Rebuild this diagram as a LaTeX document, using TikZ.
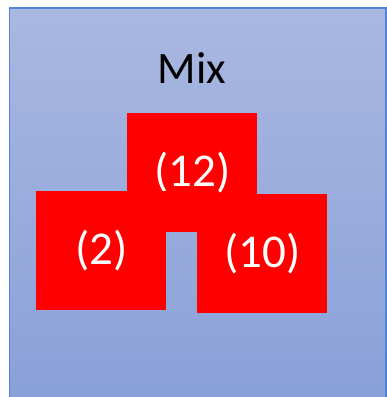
\documentclass[tikz,border=0pt]{standalone}
\usepackage{fontspec}
\setmainfont{Carlito}
\usepackage{xcolor}
\usetikzlibrary{positioning}
\definecolor{mixtop}{RGB}{169,184,225}
\definecolor{mixbot}{RGB}{137,160,216}
\definecolor{mixedge}{RGB}{84,130,212}
\tikzset{
  part/.style={fill=red,text=white,minimum width=130pt,minimum height=119pt,inner sep=0pt,anchor=north west,font=\fontsize{47}{56}\selectfont},
}

\begin{document}
\begin{tikzpicture}[x=1pt,y=-1pt]
\useasboundingbox (0,0) rectangle (387,397);
\shade[top color=mixtop,bottom color=mixbot] (9.5,8) rectangle (386,402);
\draw[mixedge,line width=1.6pt] (9.5,402) -- (9.5,8) -- (386,8) -- (386,402);
\node[font=\fontsize{45}{54}\selectfont,inner sep=0pt] (mix) at (192,68) {Mix};
\node[part] (whole) at (127,113) {(12)};
\node[part] (left) at (36,191) {(2)};
\node[part] (right) at (197,194) {(10)};
\end{tikzpicture}
\end{document}
